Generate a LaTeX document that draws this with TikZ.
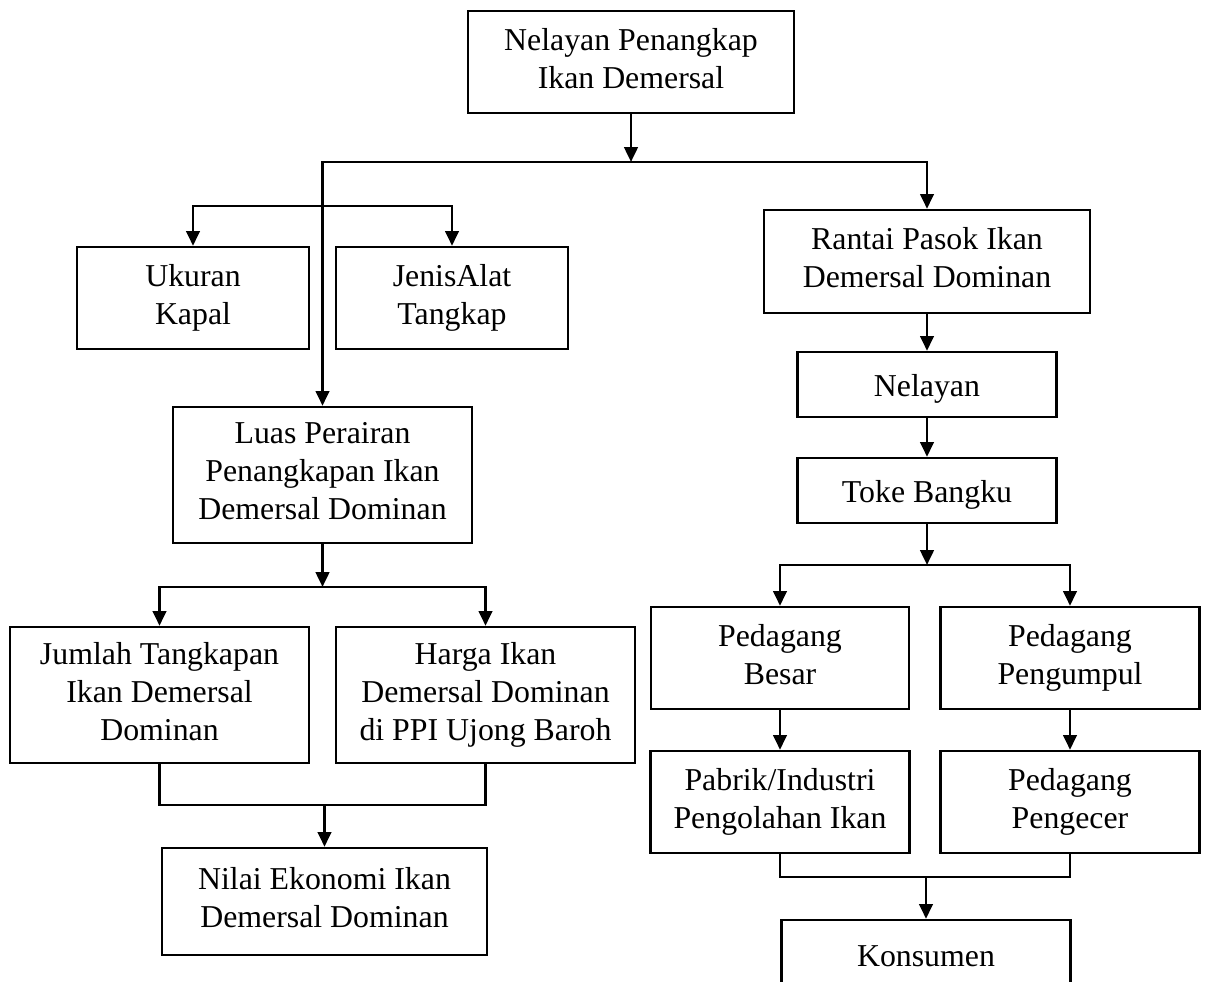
\documentclass[tikz,border=0pt]{standalone}
\usepackage{fontspec}
\setmainfont{Liberation Serif}
\usetikzlibrary{arrows.meta}
\newcommand{\boxstrut}{\rule[-2.1pt]{0pt}{10.8pt}}

\begin{document}
\begin{tikzpicture}[x=0.01cm, y=-0.01cm, >={Triangle[length=4.2pt, width=3.8pt]},
	box/.style 2 args={draw, line width=0.65pt, align=center, inner sep=0pt,
		minimum width=#1, minimum height=#2, font=\fontsize{9.05}{10.8}\selectfont,
		execute at begin node=\boxstrut, execute at end node=\boxstrut},
	link/.style={line width=0.8pt}]
	\useasboundingbox (0,0) rectangle (1206,982);

	\node [box={3.26cm}{1.02cm}] (top) at (631,62) {Nelayan Penangkap\\Ikan Demersal};

	\node [box={2.32cm}{1.02cm}] (ukuran) at (193,298) {Ukuran\\Kapal};
	\node [box={2.32cm}{1.02cm}] (jenis) at (452,298) {JenisAlat\\Tangkap};
	\node [box={2.99cm}{1.36cm}] (luas) at (322.5,475)
		{Luas Perairan\\Penangkapan Ikan\\Demersal Dominan};
	\node [box={2.99cm}{1.36cm}] (jumlah) at (159.5,695)
		{Jumlah Tangkapan\\Ikan Demersal\\Dominan};
	\node [box={2.99cm}{1.36cm}] (harga) at (485.5,695)
		{Harga Ikan\\Demersal Dominan\\di PPI Ujong Baroh};
	\node [box={3.25cm}{1.07cm}] (nilai) at (324.5,901.5)
		{Nilai Ekonomi Ikan\\Demersal Dominan};

	\node [box={3.26cm}{1.03cm}] (rantai) at (927,261.5)
		{Rantai Pasok Ikan\\Demersal Dominan};
	\node [box={2.59cm}{0.65cm}] (nelayan) at (927,384.5) {Nelayan};
	\node [box={2.59cm}{0.65cm}] (toke) at (927,490.5) {Toke Bangku};
	\node [box={2.58cm}{1.02cm}] (besar) at (780,658) {Pedagang\\Besar};
	\node [box={2.59cm}{1.02cm}] (pengumpul) at (1070,658) {Pedagang\\Pengumpul};
	\node [box={2.59cm}{1.02cm}] (pabrik) at (780,802)
		{Pabrik/Industri\\Pengolahan Ikan};
	\node [box={2.59cm}{1.02cm}] (pengecer) at (1070,802) {Pedagang\\Pengecer};
	\node [box={2.89cm}{0.70cm}] (konsumen) at (926,955) {Konsumen};

	\coordinate (split) at (631,162);
	\coordinate (alat) at (322.5,206);
	\draw[link, ->] (top) -- (split);
	\draw[link, ->] (split) -| (rantai);
	\draw[link, ->] (split) -| (luas);
	\draw[link, ->] (alat) -| (ukuran);
	\draw[link, ->] (alat) -| (jenis);

	\coordinate (ukur) at (322.5,587);
	\coordinate (gabung) at (324.5,805);
	\draw[link, ->] (luas) -- (ukur);
	\draw[link, ->] (ukur) -| (jumlah);
	\draw[link, ->] (ukur) -| (harga);
	\draw[link] (jumlah) |- (gabung);
	\draw[link] (harga) |- (gabung);
	\draw[link, ->] (gabung) -- (nilai);

	\coordinate (jual) at (927,565);
	\coordinate (olah) at (926,877);
	\draw[link, ->] (rantai) -- (nelayan);
	\draw[link, ->] (nelayan) -- (toke);
	\draw[link, ->] (toke) -- (jual);
	\draw[link, ->] (jual) -| (besar);
	\draw[link, ->] (jual) -| (pengumpul);
	\draw[link, ->] (besar) -- (pabrik);
	\draw[link, ->] (pengumpul) -- (pengecer);
	\draw[link] (pabrik) |- (olah);
	\draw[link] (pengecer) |- (olah);
	\draw[link, ->] (olah) -- (konsumen);
\end{tikzpicture}
\end{document}
